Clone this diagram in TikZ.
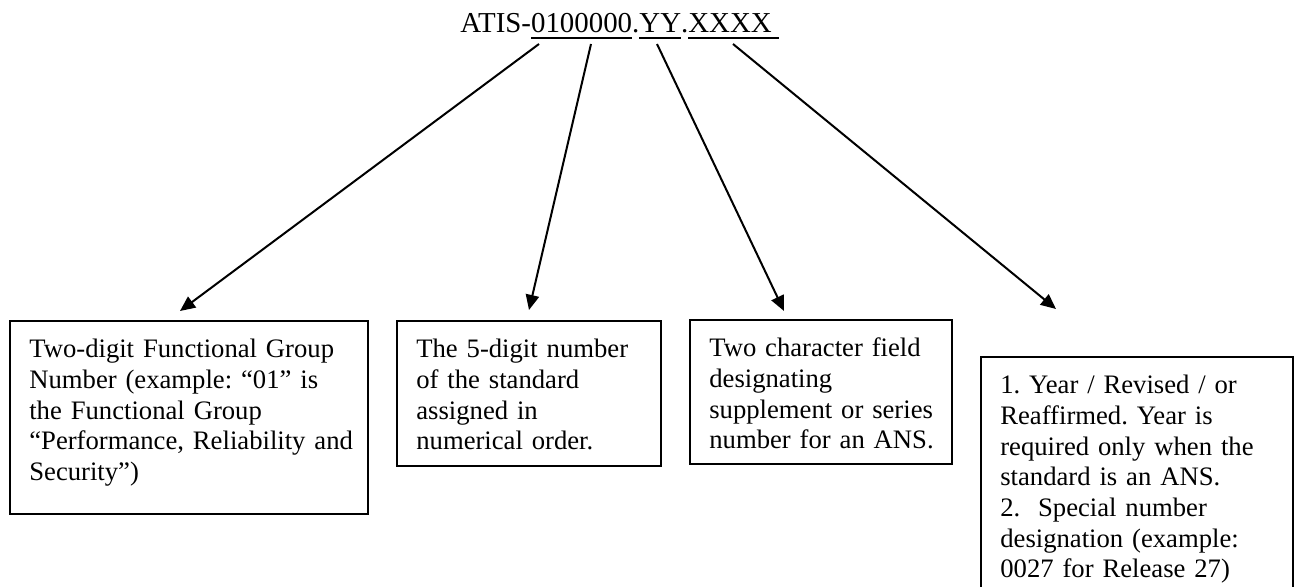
\documentclass[tikz,border=0pt]{standalone}
\usepackage{fontspec}
\setmainfont{Liberation Serif}
\usetikzlibrary{arrows.meta}

\newcommand{\fieldul}[1]{\setbox0=\hbox{#1}\rlap{\rule[-2.7pt]{\wd0}{0.9pt}}\box0}

\begin{document}
\frenchspacing
\begin{tikzpicture}[x=0.45pt, y=-0.45pt,
    every node/.style={font=\fontsize{12}{13.8}\selectfont},
    fieldtext/.style={anchor=north west, align=left, text width=170pt, inner xsep=8.5pt, inner ysep=8pt},
    fieldline/.style={line width=1pt},
    pointer/.style={-{Triangle[length=6.8pt, width=6pt]}, line width=0.9pt}]
    \clip (0,0) rectangle (1295,587);
    \node[anchor=base west, inner sep=0pt, font=\fontsize{13}{15}\selectfont] (code) at (460,33) {ATIS-\fieldul{0100000}.\fieldul{YY}.\fieldul{XXXX\ }};

    \node[fieldtext] (group) at (10,321) {Two-digit Functional Group\\ Number (example: “01” is\\ the Functional Group\\ “Performance, Reliability and\\ Security”)};
    \node[fieldtext] (number) at (397,321) {The 5-digit number\\ of the standard\\ assigned in\\ numerical order.};
    \node[fieldtext] (series) at (690,320) {Two character field\\ designating\\ supplement or series\\ number for an ANS.};
    \node[fieldtext] (year) at (981,357) {1. Year / Revised / or\\ Reaffirmed. Year is\\ required only when the\\ standard is an ANS.\\ 2.\ \ Special number\\ designation (example:\\ 0027 for Release 27)};
    \draw[fieldline] (group.north west) rectangle ++(358,193);
    \draw[fieldline] (number.north west) rectangle ++(264,145);
    \draw[fieldline] (series.north west) rectangle ++(262,144);
    \draw[fieldline] (year.north west) rectangle ++(312,260);

    \coordinate (f1) at (539,44);
    \coordinate (f2) at (591,44);
    \coordinate (f3) at (657,44);
    \coordinate (f4) at (733,44);
    \coordinate (p1) at (180,311);
    \coordinate (p2) at (529,310);
    \coordinate (p3) at (784,311);
    \coordinate (p4) at (1056,309);
    \draw[pointer] (f1) -- (p1);
    \draw[pointer] (f2) -- (p2);
    \draw[pointer] (f3) -- (p3);
    \draw[pointer] (f4) -- (p4);
\end{tikzpicture}
\end{document}
